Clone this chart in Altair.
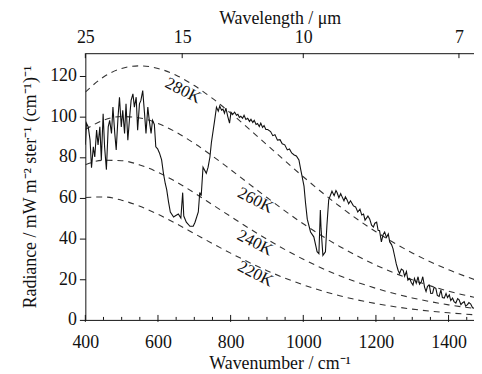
import altair as alt
import pandas as pd

FONT = "Liberation Serif, Times New Roman, serif"
INK = "#111111"

# ---- blackbody reference curves ----
planck_nu = [400, 450, 500, 550, 600, 650, 700, 750, 800, 900, 1000, 1100, 1200, 1300, 1400, 1500]
b280 = [111.9, 119.3, 123.5, 124.8, 123.5, 120.2, 115.1, 108.8, 101.6, 86.0, 70.3, 55.8, 43.3, 32.9, 24.6, 18.1]
b260 = [93.5, 98.1, 99.9, 99.2, 96.5, 92.2, 86.7, 80.5, 73.8, 60.1, 47.2, 36.1, 26.9, 19.7, 14.1, 10.0]
b240 = [76.2, 78.4, 78.2, 76.1, 72.5, 67.8, 62.4, 56.6, 50.8, 39.6, 29.8, 21.7, 15.5, 10.8, 7.4, 5.0]
b220 = [60.1, 60.4, 58.8, 55.8, 51.9, 47.3, 42.4, 37.5, 32.8, 24.2, 17.2, 11.9, 8.0, 5.3, 3.5, 2.2]
temps = ["280K", "260K", "240K", "220K"]

spec_nu = [400, 403, 408, 413, 417, 422, 426, 431, 435, 440, 444, 449, 453, 458, 463, 467, 472, 476, 481, 485,
           490, 494, 499, 503, 508, 512, 517, 522, 526, 531, 535, 540, 544, 549, 553, 558, 563, 567, 572, 576,
           581, 585, 590, 594, 599, 604, 610, 615, 620, 624, 629, 634, 643, 647, 656, 663, 668, 671, 678, 688,
           697, 702, 711, 715, 719, 724, 733, 738, 743, 747, 756, 761, 766, 770, 775, 779, 783, 787, 792, 797,
           801, 806, 811, 816, 820, 824, 828, 833, 837, 842, 847, 852, 856, 861, 865, 870, 874, 879, 883, 888,
           892, 897, 902, 910, 916, 922, 929, 936, 942, 949, 956, 962, 968, 975, 981, 988, 993, 1002, 1006, 1011,
           1020, 1029, 1035, 1038, 1043, 1047, 1049, 1054, 1061, 1065, 1070, 1079, 1085, 1090, 1093, 1098, 1103, 1106, 1112, 1116,
           1120, 1125, 1130, 1138, 1144, 1150, 1156, 1161, 1166, 1170, 1174, 1178, 1183, 1188, 1193, 1197, 1202, 1206, 1210, 1215,
           1220, 1224, 1229, 1234, 1238, 1243, 1247, 1252, 1256, 1261, 1265, 1270, 1275, 1279, 1284, 1288, 1293, 1297, 1302, 1306,
           1311, 1316, 1320, 1325, 1329, 1334, 1338, 1342, 1347, 1351, 1356, 1360, 1365, 1369, 1374, 1379, 1383, 1388, 1393, 1397,
           1402, 1406, 1411, 1415, 1420, 1425, 1429, 1434, 1438, 1443, 1447, 1452, 1456, 1461, 1466, 1470, 1475, 1479]
spec_val = [86.0, 96.6, 94.8, 88.3, 74.8, 85.0, 80.0, 93.2, 85.9, 94.8, 78.6, 101.3, 85.0, 73.8, 94.8, 98.0, 91.6, 104.5, 91.6, 83.5,
            99.7, 109.4, 94.8, 102.9, 91.6, 106.1, 88.3, 99.7, 107.8, 111.0, 104.5, 109.4, 93.2, 106.1, 107.8, 112.6, 101.3, 91.6, 104.5, 98.0,
            91.6, 98.0, 96.0, 85.0, 84.0, 82.0, 78.6, 72.0, 67.0, 64.0, 58.0, 53.0, 50.5, 51.0, 52.0, 50.0, 62.5, 51.0, 48.0, 46.0,
            46.0, 48.0, 53.0, 62.6, 61.0, 75.0, 72.0, 75.0, 80.0, 87.0, 98.0, 104.5, 102.5, 105.0, 103.0, 103.5, 101.5, 104.0, 100.0, 96.6,
            102.0, 101.0, 102.0, 100.5, 101.0, 99.5, 100.0, 99.0, 100.5, 98.5, 99.0, 97.5, 98.5, 97.0, 98.0, 96.0, 96.5, 95.0, 96.6, 94.5,
            95.5, 93.5, 93.5, 92.5, 90.5, 91.0, 88.3, 88.5, 86.5, 86.0, 83.5, 84.0, 82.0, 81.0, 80.5, 78.6, 73.8, 65.7, 57.8, 49.5,
            43.2, 40.8, 36.0, 33.5, 32.5, 54.0, 44.7, 31.7, 33.5, 46.2, 59.0, 63.2, 61.0, 63.5, 62.6, 60.0, 62.0, 60.8, 58.5, 60.5,
            59.2, 57.0, 58.5, 56.0, 55.5, 53.0, 54.4, 51.5, 52.0, 49.0, 50.0, 51.0, 49.5, 46.5, 45.6, 47.5, 48.0, 44.0, 43.8, 38.3,
            42.0, 43.2, 40.5, 42.2, 38.3, 37.0, 35.0, 30.9, 27.5, 24.4, 22.8, 25.0, 24.4, 21.5, 23.8, 19.5, 20.4, 18.5, 17.1, 20.4,
            18.0, 21.2, 17.5, 18.7, 21.2, 16.0, 14.0, 16.5, 17.1, 13.0, 13.1, 16.0, 15.5, 12.0, 11.5, 14.7, 11.0, 10.7, 13.0, 11.0,
            12.3, 9.5, 10.7, 9.0, 8.3, 10.5, 9.9, 7.5, 8.3, 9.0, 6.8, 7.5, 8.5, 7.8, 6.0, 5.8, 7.0, 6.6]

# ---- curve labels ----
lab_text = ["280K", "260K", "240K", "220K"]
lab_nu = [669, 868, 867, 868]
lab_val = [112.6, 58.7, 37.9, 22.6]

# ---- axes ----
bottom_ticks = [400, 600, 800, 1000, 1200, 1400]
bottom_minor = [450, 500, 550, 650, 700, 750, 850, 900, 950, 1050, 1100, 1150, 1250, 1300, 1350, 1450]
top_ticks = [400, 666.667, 1000, 1428.571]   # 25, 15, 10, 7 micrometres
y_ticks = [0, 20, 40, 60, 80, 100, 120]

W, H = 392, 269

planck_df = pd.DataFrame({
    "nu": planck_nu * 4,
    "val": b280 + b260 + b240 + b220,
    "T": sum([[t] * len(planck_nu) for t in temps], []),
})
spec_df = pd.DataFrame({"nu": spec_nu, "val": spec_val})
lab_df = pd.DataFrame({"nu": lab_nu, "val": lab_val, "label": lab_text})
top_df = pd.DataFrame({"nu": top_ticks})
bmaj_df = pd.DataFrame({"nu": bottom_ticks})
bmin_df = pd.DataFrame({"nu": bottom_minor})

AX = dict(labelFont=FONT, titleFont=FONT, labelFontSize=18, titleFontSize=18,
          titleFontWeight="normal", labelColor=INK, titleColor=INK,
          domainColor=INK, tickColor=INK, domainWidth=1, grid=False)

xscale = alt.Scale(domain=[400, 1470], nice=False, zero=False)
yscale = alt.Scale(domain=[0, 131], nice=False, zero=False)
yaxis = alt.Axis(values=y_ticks, title="Radiance / mW m⁻² ster⁻¹ (cm⁻¹)⁻¹",
                 tickSize=6, labelPadding=3, titlePadding=10, **AX)
Y = alt.Y("val:Q", scale=yscale, axis=yaxis)


def noX():
    return alt.X("nu:Q", scale=xscale, axis=None)


planck = alt.Chart(planck_df).mark_line(
    color="#333333", strokeWidth=1.1, strokeDash=[6, 5], interpolate="monotone", clip=True
).encode(x=noX(), y=Y, detail="T:N")

spec = alt.Chart(spec_df).mark_line(color=INK, strokeWidth=1.1, clip=True).encode(
    x=alt.X("nu:Q", scale=xscale,
            axis=alt.Axis(orient="bottom", values=bottom_ticks, format="d",
                          title="Wavenumber / cm⁻¹", ticks=False, tickSize=0,
                          labelFlush=False, labelPadding=14, titlePadding=3, **AX)),
    y=Y,
)

labels = alt.Chart(lab_df).mark_text(
    angle=27, font=FONT, fontSize=17, color=INK
).encode(x=noX(), y=Y, text="label:N")

top = alt.Chart(top_df).mark_rule(color=INK, strokeWidth=1).encode(
    x=alt.X("nu:Q", scale=xscale,
            axis=alt.Axis(orient="top", values=top_ticks,
                          labelExpr="round(10000 / datum.value) + ''",
                          title="Wavelength / μm", ticks=False, tickSize=0,
                          labelFlush=False, labelPadding=7, titlePadding=1, **AX)),
    y=alt.value(0), y2=alt.value(5),
)

bmaj = alt.Chart(bmaj_df).mark_rule(color=INK, strokeWidth=1).encode(
    x=noX(), y=alt.value(H - 5), y2=alt.value(H + 2))
bmin = alt.Chart(bmin_df).mark_rule(color=INK, strokeWidth=1).encode(
    x=noX(), y=alt.value(H - 3), y2=alt.value(H))

chart = alt.layer(planck, spec, labels, top, bmaj, bmin).resolve_scale(
    x="independent"
).properties(
    width=W, height=H,
    autosize=alt.AutoSizeParams(type="none"),
    padding={"left": 78, "top": 44, "right": 0, "bottom": 56},
    background="white",
).configure_view(stroke=None)

chart.save("out.html", embed_options={"renderer": "svg", "actions": False})
